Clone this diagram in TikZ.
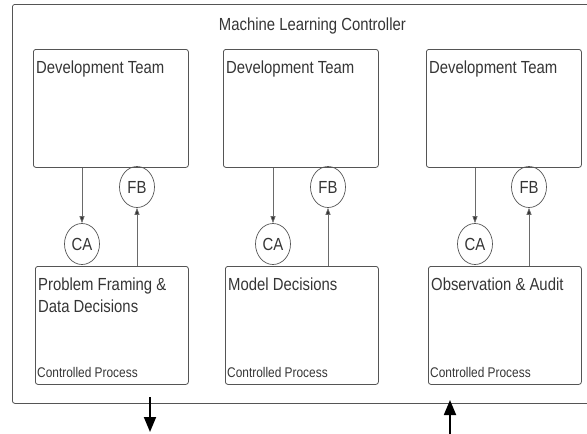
\documentclass[tikz,border=0pt]{standalone}
\usepackage{fontspec}
\setmainfont{Liberation Sans}[FakeStretch=0.85]
\usetikzlibrary{shapes.geometric,arrows.meta}

\definecolor{boxgray}{HTML}{555555}
\definecolor{linegray}{HTML}{6A6A6A}
\definecolor{inkgray}{HTML}{353535}

\tikzset{
  box/.style={draw=boxgray, line width=0.8pt, rounded corners=2.5pt, anchor=north west,
    inner sep=0pt, minimum width=155pt, minimum height=118pt},
  tag/.style={ellipse, draw=boxgray, line width=0.7pt, inner sep=0pt, minimum width=35pt,
    minimum height=41pt, text=inkgray, font=\fontsize{17.5}{20}\selectfont},
  head/.style={anchor=north west, inner sep=0pt, xshift=3pt, yshift=-12pt,
    align=left, text=inkgray, font=\fontsize{17.5}{22}\selectfont},
  foot/.style={anchor=south west, inner sep=0pt, xshift=2pt, yshift=7pt,
    text=inkgray, font=\fontsize{14}{16}\selectfont},
  flow/.style={draw=linegray, line width=0.7pt, -{Triangle[length=7pt,width=5pt,fill=inkgray]}},
  io/.style={line width=1.8pt, -{Triangle[length=15pt,width=12pt]}}
}

\begin{document}
\begin{tikzpicture}[x=1pt,y=-1pt]
        \useasboundingbox (0,0) rectangle (587,434);
        \clip (0,0) rectangle (587,434);

        % Controller
        \node[box, minimum width=600pt, minimum height=399pt,
              label={[anchor=north, inner sep=0pt, yshift=-14pt, text=inkgray,
                      font=\fontsize{17.5}{20}\selectfont]north:Machine Learning Controller}]
              (ctrl) at (12,4) {};

        % Columns
        \foreach \i/\x/\ca/\fb/\lab in {1/33/82/137/{Problem Framing \&\\Data Decisions},
                                         2/223/273/328/{Model Decisions},
                                         3/426/475/529/{Observation \& Audit}} {
            \node[box, label={[head]north west:Development Team}] (dev\i) at (\x,49) {};
            \node[box, minimum width=153pt,
                  label={[head]north west:\lab},
                  label={[foot]south west:Controlled Process}] (proc\i) at (\x+2,266) {};
            \node[tag] (ca\i) at (\ca,244) {CA};
            \node[tag] (fb\i) at (\fb,187) {FB};
            \draw[flow] (dev\i.south -| ca\i) -- (ca\i.north);
            \draw[flow] (proc\i.north -| fb\i) -- (fb\i.south);
        }

        % Output and input
        \coordinate (out) at (150,432);
        \coordinate (in) at (450,434);
        \draw[io] (out |- 0,397) -- (out);
        \draw[io] (in) -- (in |- 0,400);
    \end{tikzpicture}
\end{document}
